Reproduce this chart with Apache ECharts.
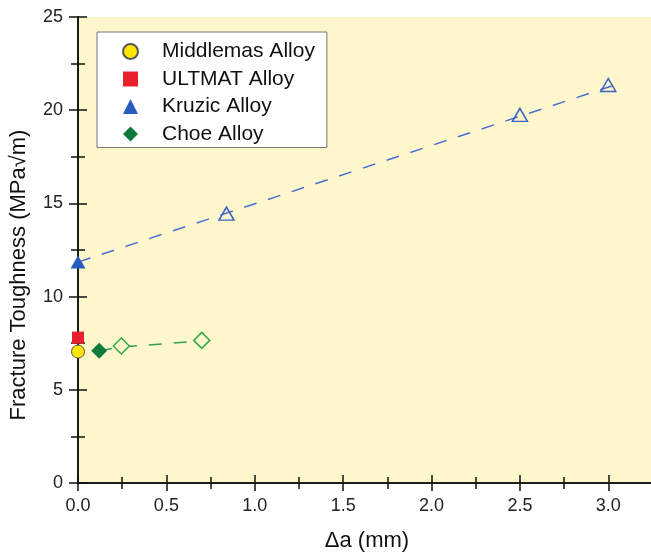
<!DOCTYPE html>
<html>
<head>
<meta charset="utf-8">
<script src="https://cdn.jsdelivr.net/npm/echarts@6/dist/echarts.min.js"></script>
<style>
  html, body { margin: 0; padding: 0; background: #fff; }
  #chart { width: 651px; height: 552px; }
</style>
</head>
<body>
<div id="chart"></div>
<script>
// values: [delta a (mm), toughness (MPa sqrt m)]
var middlemas = [[0, 7.05]];
var ultmat = [[0, 7.8]];
var kruzicStart = [[0, 11.85]];
var kruzicOpen = [[0.84, 14.45], [2.5, 19.75], [3.0, 21.35]];
var kruzicFit = [[0, 11.85], [3.02, 21.3]];
var choeStart = [[0.12, 7.1]];
var choeOpen = [[0.245, 7.35], [0.7, 7.65]];
var choeFit = [[0.12, 7.1], [0.245, 7.3], [0.7, 7.62]];
var legendNames = ['Middlemas Alloy', 'ULTMAT Alloy', 'Kruzic Alloy', 'Choe Alloy'];

var FONT = '"Liberation Sans", Arial, sans-serif';
var chart = echarts.init(document.getElementById('chart'));

var XMAX = 3.27;
var lineBlack = { show: true, lineStyle: { color: '#111', width: 1.6 } };
var tickStyle = { color: '#111', width: 1.5 };

var option = {
  animation: false,
  backgroundColor: '#fff',
  grid: {
    left: 78, top: 17, right: -5, bottom: 69,
    outerBoundsMode: 'none',
    show: true, backgroundColor: '#FFF7CC', borderWidth: 0
  },
  legend: {
    data: legendNames,
    orient: 'vertical',
    left: 97, top: 32,
    width: 232,
    padding: [9, 12, 3, 25],
    itemGap: 6.5,
    itemWidth: 15, itemHeight: 15,
    backgroundColor: '#fff',
    borderColor: '#777', borderWidth: 1,
    textStyle: { fontFamily: FONT, fontSize: 21, color: '#111', padding: [0, 0, 0, 19] }
  },
  xAxis: [
    { // bottom, labels and outward ticks
      type: 'value', min: 0, max: XMAX, interval: 0.5,
      position: 'bottom',
      name: '\u0394a (mm)', nameLocation: 'middle', nameGap: 47,
      nameTextStyle: { fontFamily: FONT, fontSize: 22, color: '#111' },
      axisLine: lineBlack,
      axisTick: { show: true, inside: false, length: 7, lineStyle: tickStyle },
      axisLabel: { fontFamily: FONT, fontSize: 18, color: '#222', margin: 14,
        showMaxLabel: false,
        formatter: function (v) { return v > 3.1 ? '' : v.toFixed(1); } },
      splitLine: { show: false }
    },
    { // bottom, inward ticks + minor
      type: 'value', min: 0, max: XMAX, interval: 0.5,
      position: 'bottom', gridIndex: 0,
      axisLine: { show: false },
      axisTick: { show: true, inside: true, length: 8, lineStyle: tickStyle },
      minorTick: { show: true, splitNumber: 2, length: 6, lineStyle: tickStyle },
      axisLabel: { show: false },
      splitLine: { show: false }
    },
    { // top frame
      type: 'value', min: 0, max: XMAX, interval: 0.5,
      position: 'top', gridIndex: 0,
      axisLine: lineBlack,
      axisTick: { show: true, inside: true, length: 8, lineStyle: tickStyle },
      minorTick: { show: true, splitNumber: 2, length: 6, lineStyle: tickStyle },
      axisLabel: { show: false },
      splitLine: { show: false }
    }
  ],
  yAxis: [
    { // left, labels and outward ticks
      type: 'value', min: 0, max: 25, interval: 5,
      position: 'left',
      name: 'Fracture Toughness (MPa\u221Am)', nameLocation: 'middle', nameGap: 48,
      nameTextStyle: { fontFamily: FONT, fontSize: 22, color: '#111', padding: [0, 50, 0, 0] },
      axisLine: lineBlack,
      axisTick: { show: true, inside: false, length: 9, lineStyle: tickStyle },
      axisLabel: { fontFamily: FONT, fontSize: 18, color: '#222', margin: 15 },
      splitLine: { show: false }
    },
    { // left, inward ticks + minor
      type: 'value', min: 0, max: 25, interval: 5,
      position: 'left', gridIndex: 0,
      axisLine: { show: false },
      axisTick: { show: true, inside: true, length: 9, lineStyle: tickStyle },
      minorTick: { show: true, splitNumber: 2, length: 7, lineStyle: tickStyle },
      axisLabel: { show: false },
      splitLine: { show: false }
    },
    { // right frame
      type: 'value', min: 0, max: 25, interval: 5,
      position: 'right', gridIndex: 0,
      axisLine: lineBlack,
      axisTick: { show: true, inside: true, length: 9, lineStyle: tickStyle },
      minorTick: { show: true, splitNumber: 2, length: 7, lineStyle: tickStyle },
      axisLabel: { show: false },
      splitLine: { show: false }
    }
  ],
  series: [
    {
      name: 'Kruzic fit', type: 'line', data: kruzicFit, symbol: 'none', z: 2,
      lineStyle: { color: '#4A6CD4', width: 1.5, type: [13, 12] }
    },
    {
      name: 'Choe fit', type: 'line', data: choeFit, symbol: 'none', z: 2,
      lineStyle: { color: '#2EA050', width: 1.5, type: [13, 12] }
    },
    {
      name: 'Kruzic open', type: 'scatter', data: kruzicOpen, symbol: 'triangle', symbolSize: [15, 13], z: 3,
      itemStyle: { color: 'rgba(0,0,0,0)', borderColor: '#3A62C8', borderWidth: 1.5, opacity: 1 }
    },
    {
      name: 'Choe open', type: 'scatter', data: choeOpen, symbol: 'diamond', symbolSize: 16, z: 3,
      itemStyle: { color: '#FFF7CC', borderColor: '#2EA84A', borderWidth: 1.5, opacity: 1 }
    },
    {
      name: 'Middlemas Alloy', type: 'scatter', data: middlemas, symbol: 'circle', symbolSize: 13, z: 5,
      itemStyle: { color: '#FFE600', borderColor: '#555', borderWidth: 1, opacity: 1 }
    },
    {
      name: 'ULTMAT Alloy', type: 'scatter', data: ultmat, symbol: 'rect', symbolSize: 12, z: 4,
      itemStyle: { color: '#E8202C', opacity: 1 }
    },
    {
      name: 'Kruzic Alloy', type: 'scatter', data: kruzicStart, symbol: 'triangle', symbolSize: [15, 13], z: 4,
      itemStyle: { color: '#2A5CC0', opacity: 1 }
    },
    {
      name: 'Choe Alloy', type: 'scatter', data: choeStart, symbol: 'diamond', symbolSize: 16, z: 4,
      itemStyle: { color: '#0E7A3A', opacity: 1 }
    }
  ]
};

chart.setOption(option);
</script>
</body>
</html>
